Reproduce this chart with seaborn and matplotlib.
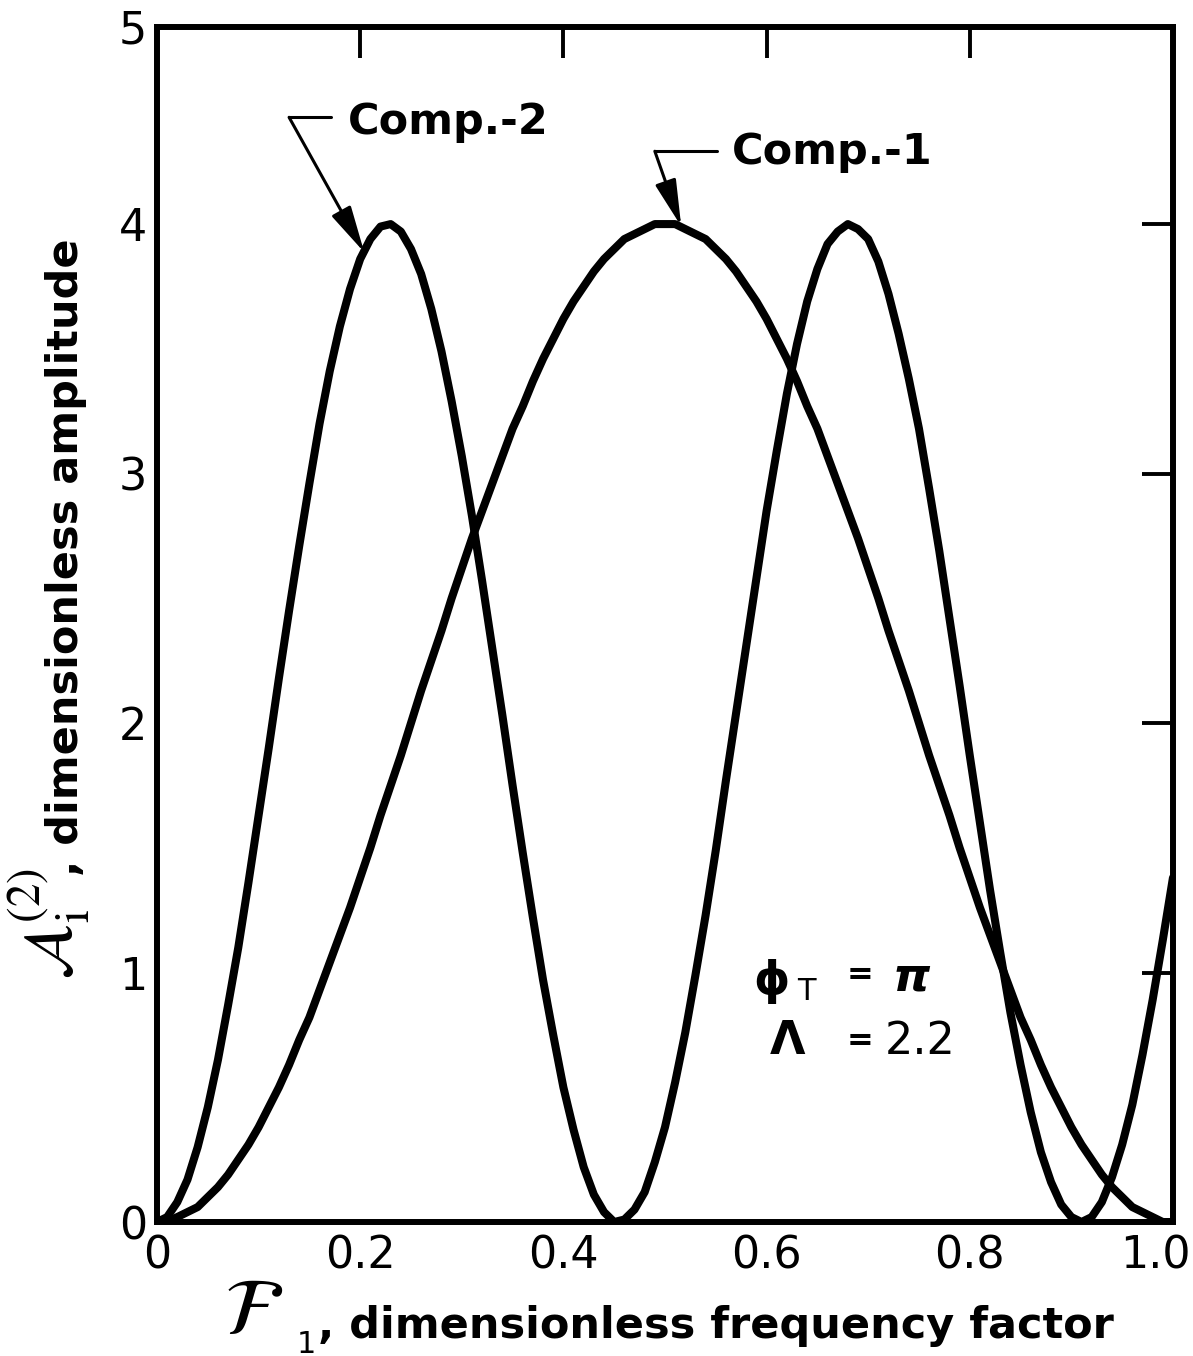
#!/usr/bin/env python3
# Dimensionless amplitude of the two components vs frequency factor
import pandas as pd
import seaborn as sns
import matplotlib
matplotlib.use("Agg")
import matplotlib.pyplot as plt
from matplotlib.transforms import ScaledTranslation

# values (step 0.01 in F1)
f1 = [0.00, 0.01, 0.02, 0.03, 0.04, 0.05, 0.06, 0.07, 0.08, 0.09,
      0.10, 0.11, 0.12, 0.13, 0.14, 0.15, 0.16, 0.17, 0.18, 0.19,
      0.20, 0.21, 0.22, 0.23, 0.24, 0.25, 0.26, 0.27, 0.28, 0.29,
      0.30, 0.31, 0.32, 0.33, 0.34, 0.35, 0.36, 0.37, 0.38, 0.39,
      0.40, 0.41, 0.42, 0.43, 0.44, 0.45, 0.46, 0.47, 0.48, 0.49,
      0.50, 0.51, 0.52, 0.53, 0.54, 0.55, 0.56, 0.57, 0.58, 0.59,
      0.60, 0.61, 0.62, 0.63, 0.64, 0.65, 0.66, 0.67, 0.68, 0.69,
      0.70, 0.71, 0.72, 0.73, 0.74, 0.75, 0.76, 0.77, 0.78, 0.79,
      0.80, 0.81, 0.82, 0.83, 0.84, 0.85, 0.86, 0.87, 0.88, 0.89,
      0.90, 0.91, 0.92, 0.93, 0.94, 0.95, 0.96, 0.97, 0.98, 0.99, 1.00]

comp1 = [0.00, 0.00, 0.02, 0.04, 0.06, 0.10, 0.14, 0.19, 0.25, 0.31,
         0.38, 0.46, 0.54, 0.63, 0.73, 0.82, 0.93, 1.04, 1.15, 1.26,
         1.38, 1.50, 1.63, 1.75, 1.87, 2.00, 2.13, 2.25, 2.37, 2.50,
         2.62, 2.74, 2.85, 2.96, 3.07, 3.18, 3.27, 3.37, 3.46, 3.54,
         3.62, 3.69, 3.75, 3.81, 3.86, 3.90, 3.94, 3.96, 3.98, 4.00,
         4.00, 4.00, 3.98, 3.96, 3.94, 3.90, 3.86, 3.81, 3.75, 3.69,
         3.62, 3.54, 3.46, 3.37, 3.27, 3.18, 3.07, 2.96, 2.85, 2.74,
         2.62, 2.50, 2.37, 2.25, 2.13, 2.00, 1.87, 1.75, 1.63, 1.50,
         1.38, 1.26, 1.15, 1.04, 0.93, 0.82, 0.73, 0.63, 0.54, 0.46,
         0.38, 0.31, 0.25, 0.19, 0.14, 0.10, 0.06, 0.04, 0.02, 0.00, 0.00]

comp2 = [0.00, 0.02, 0.08, 0.17, 0.30, 0.46, 0.65, 0.87, 1.10, 1.36,
         1.63, 1.90, 2.18, 2.45, 2.71, 2.96, 3.20, 3.41, 3.59, 3.74,
         3.86, 3.94, 3.99, 4.00, 3.97, 3.90, 3.80, 3.66, 3.49, 3.29,
         3.07, 2.83, 2.57, 2.30, 2.03, 1.75, 1.48, 1.22, 0.97, 0.75,
         0.54, 0.37, 0.22, 0.11, 0.04, 0.00, 0.01, 0.05, 0.12, 0.24,
         0.38, 0.56, 0.76, 0.99, 1.23, 1.49, 1.77, 2.04, 2.31, 2.58,
         2.85, 3.09, 3.32, 3.52, 3.69, 3.82, 3.92, 3.97, 4.00, 3.98,
         3.94, 3.85, 3.72, 3.56, 3.38, 3.18, 2.94, 2.69, 2.42, 2.15,
         1.87, 1.60, 1.33, 1.08, 0.84, 0.63, 0.44, 0.28, 0.16, 0.07,
         0.02, 0.00, 0.02, 0.08, 0.18, 0.31, 0.47, 0.67, 0.89, 1.13, 1.38]

x_ticks = [0, 0.2, 0.4, 0.6, 0.8, 1.0]
x_ticklabels = ["0", "0.2", "0.4", "0.6", "0.8", "1.0"]
# the drawn frame stops a little below 5; the "5" sits at its top corner
y_top = 4.79
y_ticks = [0, 1, 2, 3, 4, y_top]
y_ticklabels = ["0", "1", "2", "3", "4", "5"]

df = pd.concat([
    pd.DataFrame({"F1": f1, "amp": comp1, "comp": "Comp.-1"}),
    pd.DataFrame({"F1": f1, "amp": comp2, "comp": "Comp.-2"}),
], ignore_index=True)

sns.set_style("white")
plt.rcParams["font.family"] = ["DejaVu Sans"]
plt.rcParams["text.color"] = "black"

fig = plt.figure(figsize=(11.93, 13.56), dpi=100)
ax = fig.add_axes([0.1316, 0.0988, 0.8516, 0.8813])

sns.lineplot(data=df, x="F1", y="amp", hue="comp", palette=["black", "black"],
             estimator=None, sort=False, legend=False, ax=ax,
             linewidth=5.8, solid_joinstyle="round", solid_capstyle="round")

ax.set_xlim(0, 1.0)
ax.set_ylim(0, y_top)
ax.set_xticks(x_ticks)
ax.set_xticklabels(x_ticklabels)
ax.set_yticks(y_ticks)
ax.set_yticklabels(y_ticklabels)
ax.tick_params(direction="in", length=22, width=2.8, top=True, right=True,
               labelsize=32, pad=7, color="black", labelcolor="black")
ax.tick_params(axis="x", pad=9)
for sp in ax.spines.values():
    sp.set_visible(True)
    sp.set_linewidth(4.3)
    sp.set_color("black")
ax.set_xlabel("")
ax.set_ylabel("")

# nudge the last x label inward so it stays on the page
last = ax.get_xticklabels()[-1]
last.set_transform(last.get_transform() + ScaledTranslation(-18 / 100, 0, fig.dpi_scale_trans))

# axis titles, built from pieces so the script letters can be large
fig.text(0.188, 0.016, r"$\mathcal{F}$", fontsize=58, va="baseline", ha="left",
         math_fontfamily="stix")
fig.text(0.249, 0.0088, "1", fontsize=22, va="center", ha="left")
fig.text(0.2666, 0.0133, ", dimensionless frequency factor", fontsize=31,
         fontweight="bold", va="baseline", ha="left")

fig.text(0.0604, 0.2773, r"$\mathcal{A}_{\mathrm{i}}^{(2)}$", fontsize=48,
         rotation=90, rotation_mode="anchor", va="baseline", ha="left",
         math_fontfamily="stix")
fig.text(0.0654, 0.354, ", dimensionless amplitude", fontsize=31,
         fontweight="bold", rotation=90, rotation_mode="anchor",
         va="baseline", ha="left")

# callouts
arrow = dict(arrowstyle="-|>,head_length=1.3,head_width=0.3", color="black",
             lw=2.2, mutation_scale=22, shrinkA=0, shrinkB=0)
ax.plot([0.130, 0.171], [4.428, 4.428], color="black", lw=2.2)
ax.annotate("", xy=(0.204, 3.887), xytext=(0.130, 4.428), arrowprops=arrow)
ax.text(0.188, 4.41, "Comp.-2", fontsize=31, fontweight="bold",
        va="center", ha="left")

ax.plot([0.490, 0.551], [4.292, 4.292], color="black", lw=2.2)
ax.annotate("", xy=(0.516, 3.991), xytext=(0.490, 4.292), arrowprops=arrow)
ax.text(0.566, 4.29, "Comp.-1", fontsize=31, fontweight="bold",
        va="center", ha="left")

# parameters
ax.text(0.5865, 0.965, "ϕ", fontsize=33, fontweight="bold", va="center", ha="left")
ax.text(0.630, 0.925, "T", fontsize=22, va="center", ha="left")
ax.text(0.679, 0.99, "=", fontsize=23, fontweight="bold", va="center", ha="left")
ax.text(0.723, 0.98, r"$\boldsymbol{\pi}$", fontsize=34, va="center", ha="left",
        math_fontfamily="dejavusans")
ax.text(0.603, 0.722, "Λ", fontsize=33, fontweight="bold", va="center", ha="left")
ax.text(0.679, 0.722, "=", fontsize=23, fontweight="bold", va="center", ha="left")
ax.text(0.716, 0.722, "2.2", fontsize=32, va="center", ha="left")

fig.savefig("out.png", dpi=100, facecolor="white")
